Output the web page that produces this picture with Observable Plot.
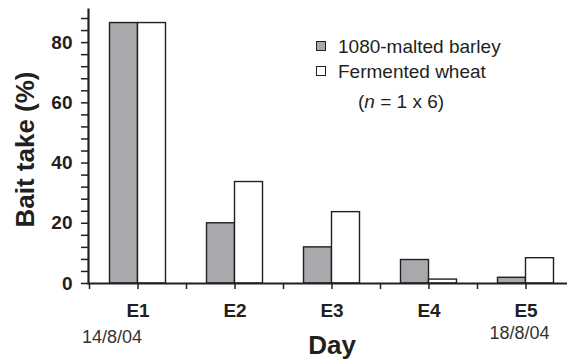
<!DOCTYPE html>
<html><head><meta charset="utf-8">
<script src="https://cdn.jsdelivr.net/npm/d3@7"></script>
<script src="https://cdn.jsdelivr.net/npm/@observablehq/plot@0.6"></script>
<style>
body{margin:0;background:#fff;font-family:"Liberation Sans",Arial,sans-serif;}
#wrap{position:relative;width:567px;height:360px;overflow:hidden;background:#fff}
.leg{position:absolute;font-size:19px;color:#231f20;white-space:nowrap;line-height:1}
.sw{position:absolute;width:8px;height:8px;border:1.4px solid #231f20}
</style></head><body><div id="wrap"></div>
<script>
const days = ["E1","E2","E3","E4","E5"];
const dateLabels = ["14/8/04","","","","18/8/04"];
const barley = [86.5, 20, 12, 7.8, 1.9];
const wheat = [86.5, 33.7, 23.7, 1.3, 8.4];
const seriesNames = ["1080-malted barley","Fermented wheat"];
const seriesColors = ["#a7a9ac","#ffffff"];
const yTicks = d3.range(0, 89, 4);
const yMajor = [0,20,40,60,80];
const yLabel = "Bait take (%)";
const xLabel = "Day";
const note = "= 1 x 6)";

const rows = days.map((d,i)=>({day:d, barley:barley[i], wheat:wheat[i], date:dateLabels[i]}));
const ink = "#231f20";

const chart = Plot.plot({
  width: 567, height: 360,
  marginLeft: 88, marginRight: 0, marginTop: 9, marginBottom: 77,
  style: {fontFamily: "'Liberation Sans', Arial, sans-serif", color: ink, background: "white", overflow: "visible"},
  x: {type: "band", domain: days, range: [89, 574], padding: 0},
  y: {domain: [0, 91], range: [283, 9]},
  marks: [
    Plot.barY(rows, {x: "day", y: "barley", fill: seriesColors[0], stroke: ink, strokeWidth: 1.4, insetLeft: 20.5, insetRight: 48.5}),
    Plot.barY(rows, {x: "day", y: "wheat", fill: seriesColors[1], stroke: ink, strokeWidth: 1.4, insetLeft: 48.5, insetRight: 20.5}),
    Plot.axisY({ticks: yTicks, tickFormat: d => yMajor.includes(d) ? d : "", tickSize: 7, tickPadding: 9, fontSize: 19, fontWeight: "bold", strokeWidth: 1.5, stroke: ink, fill: ink, label: null}),
    Plot.axisX({tickSize: 6, tickPadding: 14, fontSize: 19, fontWeight: "bold", strokeWidth: 1.5, stroke: ink, fill: ink, label: null}),
    Plot.ruleX(days, {x: d => d, dx: -48.5, y1: 0, y2: -2, stroke: ink, strokeWidth: 1.5}),
    Plot.ruleY([0], {stroke: ink, strokeWidth: 2.2}),
    Plot.frame({anchor: "left", stroke: ink, strokeWidth: 2.2}),
    Plot.text([yLabel], {frameAnchor: "left", textAnchor: "middle", rotate: -90, dx: -63, dy: 3, fontSize: 26, fontWeight: "bold", fill: ink}),
    Plot.text([xLabel], {x: () => days[2], y: 0, dy: 62, fontSize: 26, fontWeight: "bold", fill: ink}),
    Plot.text(rows.filter(r => r.day === days[0]), {x: "day", y: 0, text: "date", dx: -26, dy: 54, fontSize: 18, fill: "#333"}),
    Plot.text(rows.filter(r => r.day === days[4]), {x: "day", y: 0, text: "date", dx: -6.5, dy: 50, fontSize: 18, fill: "#333"})
  ]
});
const wrap = document.getElementById("wrap");
wrap.appendChild(chart);

// legend
const leg = [
  {sw: {left: 316, top: 41}, text: {left: 338, top: 36.5}},
  {sw: {left: 316, top: 65.5}, text: {left: 338, top: 61.5}}
];
seriesNames.forEach((name, i) => {
  const s = document.createElement("div");
  s.className = "sw";
  s.style.left = leg[i].sw.left + "px"; s.style.top = leg[i].sw.top + "px";
  s.style.background = seriesColors[i];
  wrap.appendChild(s);
  const t = document.createElement("div");
  t.className = "leg";
  t.style.left = leg[i].text.left + "px"; t.style.top = leg[i].text.top + "px";
  t.textContent = name;
  wrap.appendChild(t);
});
const n = document.createElement("div");
n.className = "leg";
n.style.left = "358px"; n.style.top = "91.5px";
n.innerHTML = "(<i>n</i> " + note;
wrap.appendChild(n);
</script></body></html>
